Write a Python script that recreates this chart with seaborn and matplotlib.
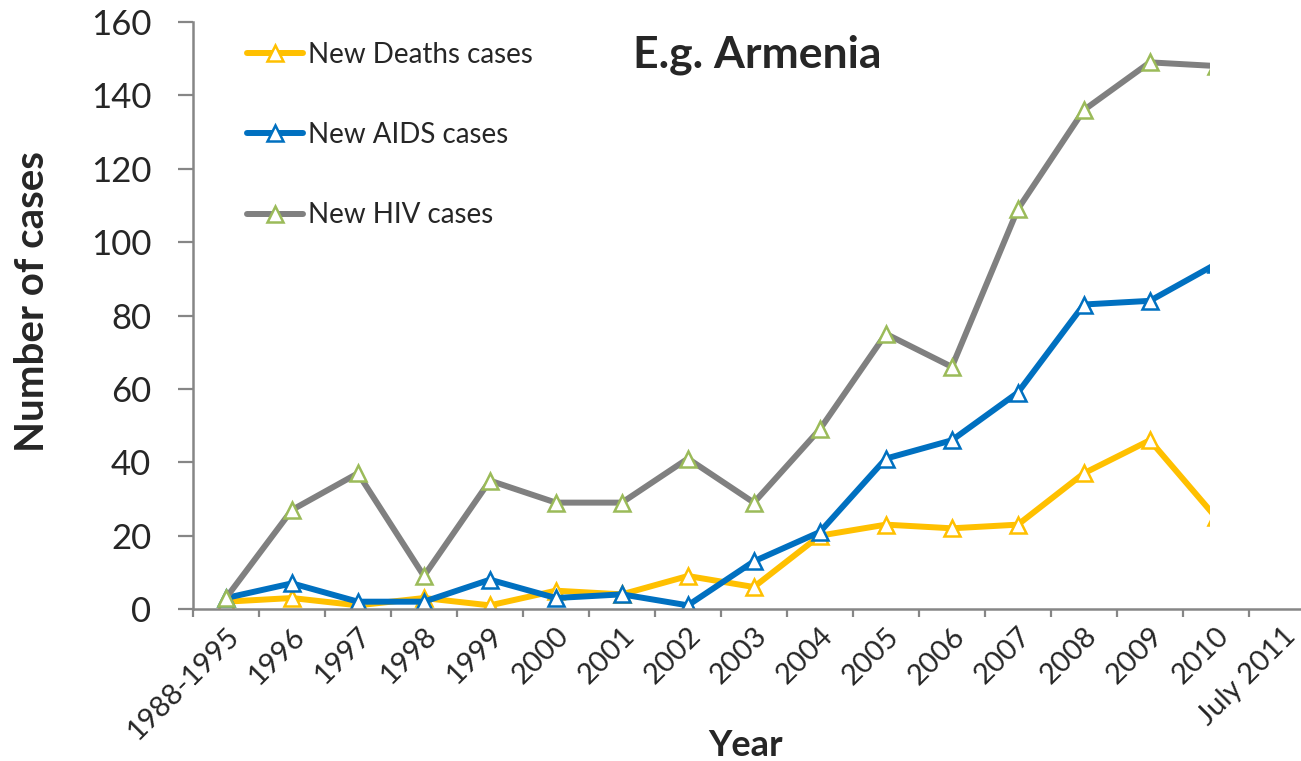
import matplotlib
matplotlib.use("Agg")
import matplotlib.pyplot as plt
import matplotlib.patches as mpatches
from matplotlib.ticker import FixedLocator
import seaborn as sns
import pandas as pd

years = ["1988-1995", "1996", "1997", "1998", "1999", "2000", "2001", "2002",
         "2003", "2004", "2005", "2006", "2007", "2008", "2009", "2010", "July 2011"]
new_deaths = [2, 3, 1, 3, 1, 5, 4, 9, 6, 20, 23, 22, 23, 37, 46, 25]
new_aids = [3, 7, 2, 2, 8, 3, 4, 1, 13, 21, 41, 46, 59, 83, 84, 94]
new_hiv = [3, 27, 37, 9, 35, 29, 29, 41, 29, 49, 75, 66, 109, 136, 149, 148]

series = [
    ("New Deaths cases", new_deaths, "#FFC000", "#FFC000"),
    ("New AIDS cases", new_aids, "#0070C0", "#0070C0"),
    ("New HIV cases", new_hiv, "#808080", "#9BBB59"),
]

sns.set_theme(style="white")
plt.rcParams["font.family"] = ["Lato", "DejaVu Sans"]

fig = plt.figure(figsize=(13.01, 7.61), dpi=100)
ax = fig.add_axes([0.1483, 0.1997, 0.8517, 0.7714])

for name, vals, line_c, edge_c in series:
    df = pd.DataFrame({"pos": range(len(vals)), "cases": vals})
    sns.lineplot(data=df, x="pos", y="cases", ax=ax, color=line_c, lw=4.3,
                 marker="^", markersize=11, markerfacecolor="white",
                 markeredgecolor=edge_c, markeredgewidth=1.8, label=name,
                 zorder=3)

# blank panel over the last stretch of the plotting area
ax.add_patch(mpatches.Rectangle((14.91, 0.9), 2.0, 170, facecolor="white",
                                edgecolor="none", zorder=4, clip_on=True))

ax.set_xlim(-0.5, 16.29)
ax.set_ylim(0, 160)
ax.set_yticks(range(0, 161, 20))
ax.set_xticks(range(len(years)))
ax.set_xticklabels(years, rotation=45, ha="right", rotation_mode="anchor",
                   fontsize=21)
ax.xaxis.set_minor_locator(FixedLocator([i - 0.5 for i in range(len(years) + 1)]))
ax.tick_params(axis="x", which="major", length=0, pad=10)
ax.tick_params(axis="x", which="minor", length=6, width=1.6, color="#868686",
               direction="out", bottom=True)
ax.tick_params(axis="y", length=11, width=1.6, color="#868686", direction="out",
               left=True, labelsize=25, pad=19)

for s in ["top", "right"]:
    ax.spines[s].set_visible(False)
for s in ["left", "bottom"]:
    ax.spines[s].set_color("#868686")
    ax.spines[s].set_linewidth(1.8)
    ax.spines[s].set_zorder(5)

ax.set_xlabel("")
ax.set_ylabel("")
fig.text(746 / 1301, 1 - 729 / 761, "Year", fontsize=26, fontweight="bold",
         ha="center", va="top")
fig.text(33 / 1301, 1 - 302 / 761, "Number of cases", fontsize=29,
         fontweight="bold", rotation=90, ha="center", va="center")
fig.text(757 / 1301, 1 - 55 / 761, "E.g. Armenia", fontsize=32,
         fontweight="bold", ha="center", va="center")

leg = ax.legend(loc="upper left", bbox_to_anchor=(0.039, 0.985), frameon=False,
                fontsize=20, handlelength=2.0, handletextpad=0.18,
                labelspacing=1.95, borderaxespad=0.0)

fig.savefig("out.png", dpi=100)
